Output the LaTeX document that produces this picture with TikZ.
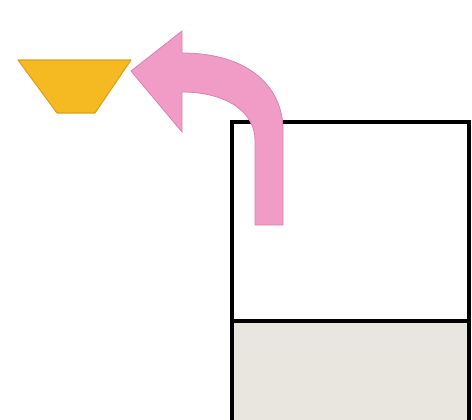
\documentclass[tikz,border=0pt]{standalone}
\usetikzlibrary{calc}
\definecolor{cupyellow}{HTML}{F5BA22}
\definecolor{cupedge}{HTML}{D9A020}
\definecolor{arrowpink}{HTML}{F09CC6}
\definecolor{arrowedge}{HTML}{D884B0}
\definecolor{lowerfill}{HTML}{E9E6E0}

\begin{document}
\begin{tikzpicture}[
    x=0.75pt, y=-0.75pt,
    cup/.style={fill=cupyellow, draw=cupedge, line width=0.8pt, line join=round},
    bent/.style={fill=arrowpink, draw=arrowedge, line width=0.6pt, line join=miter},
    box/.style={draw=black, line width=2.6pt}
]
\useasboundingbox (0,0) rectangle (472,419);
\clip (0,0) rectangle (472,419);

% rectangle with the lower part shaded
\fill[lowerfill] (232,321) rectangle (469,430);
\draw[box] (232,430) -- (232,122) -- (469,122) -- (469,430);
\draw[box] (232,321) -- (469,321);

% upturned cup
\draw[cup] (18,60) -- (131,60) -- (95,113) -- (57,113) -- cycle;

% bent arrow
\draw[bent] (182,53) .. controls (250,53) and (283,88) .. (283,130)
    -- (283,225) -- (255,225) -- (255,140)
    .. controls (255,112) and (226,92) .. (182,92)
    -- (182,132) -- (131,71) -- (182,31) -- cycle;
\end{tikzpicture}
\end{document}
